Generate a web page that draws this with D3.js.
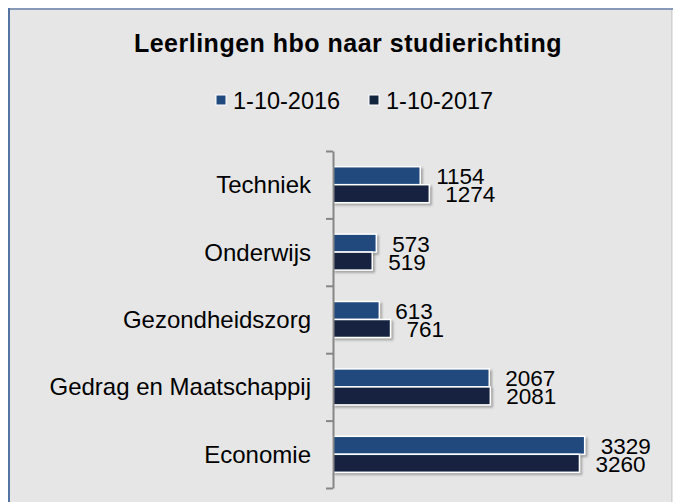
<!DOCTYPE html>
<html>
<head>
<meta charset="utf-8">
<script src="https://cdn.jsdelivr.net/npm/d3@7"></script>
<style>
  body { margin: 0; background: #fff; }
  svg { display: block; font-family: "Liberation Sans", Arial, sans-serif; }
</style>
</head>
<body>
<div id="chart"></div>
<script>
// data
var categories = ["Techniek", "Onderwijs", "Gezondheidszorg", "Gedrag en Maatschappij", "Economie"];
var seriesNames = ["1-10-2016", "1-10-2017"];
var values2016 = [1154, 573, 613, 2067, 3329];
var values2017 = [1274, 519, 761, 2081, 3260];
var seriesColors = ["#204a7e", "#13243f"];

var rows = categories.map(function (c, i) {
  return { cat: c, vals: [values2016[i], values2017[i]] };
});

var W = 673, H = 502;
var svg = d3.select("#chart").append("svg")
  .attr("width", W).attr("height", H);

// drop shadow under bars
var defs = svg.append("defs");
defs.append("filter").attr("id", "shadow")
  .attr("x", "-10%").attr("y", "-30%").attr("width", "130%").attr("height", "170%")
  .append("feDropShadow")
  .attr("dx", 2).attr("dy", 2).attr("stdDeviation", 1.2)
  .attr("flood-color", "#555").attr("flood-opacity", 0.45);

// chart frame (runs off the bottom of the picture)
svg.append("rect")
  .attr("x", 9).attr("y", 9).attr("width", 700).attr("height", 520)
  .attr("fill", "#e6e6e6").attr("stroke", "#8799b6").attr("stroke-width", 2);
svg.append("line")
  .attr("x1", 9).attr("x2", 9).attr("y1", 8).attr("y2", H)
  .attr("stroke", "#5474a3").attr("stroke-width", 2);
svg.append("line")
  .attr("x1", 671.5).attr("x2", 671.5).attr("y1", 10).attr("y2", H)
  .attr("stroke", "#d2d2d2").attr("stroke-width", 1);

// title
svg.append("text")
  .attr("x", 348).attr("y", 52)
  .attr("text-anchor", "middle")
  .style("font-size", "25px").style("font-weight", "bold")
  .style("letter-spacing", "0.5px")
  .text("Leerlingen hbo naar studierichting");

// legend
var legendX = [216, 369];
var legend = svg.selectAll(".legend").data(seriesNames).enter().append("g")
  .attr("class", "legend")
  .attr("transform", function (d, i) { return "translate(" + legendX[i] + ",95)"; });
legend.append("rect")
  .attr("width", 10).attr("height", 10)
  .attr("fill", function (d, i) { return seriesColors[i]; })
  .attr("stroke", "#fff").attr("stroke-width", 1);
legend.append("text")
  .attr("x", 17).attr("y", 13.5)
  .style("font-size", "23.5px")
  .text(function (d) { return d; });

// scales
var x = d3.scaleLinear().domain([0, 4000]).range([333, 333 + 302.4]);
var y0 = d3.scaleBand().domain(categories).range([151, 488]);
var groupH = 36;
var y1 = d3.scaleBand().domain([0, 1])
  .range([(y0.bandwidth() - groupH) / 2, (y0.bandwidth() + groupH) / 2]);

// bars
var groups = svg.selectAll(".grp").data(rows).enter().append("g")
  .attr("class", "grp")
  .attr("transform", function (d) { return "translate(0," + y0(d.cat) + ")"; });

groups.selectAll("rect").data(function (d) { return d.vals; }).enter().append("rect")
  .attr("x", x(0))
  .attr("y", function (d, i) { return y1(i); })
  .attr("width", function (d) { return x(d) - x(0); })
  .attr("height", y1.bandwidth())
  .attr("fill", function (d, i) { return seriesColors[i]; })
  .attr("stroke", "#fff").attr("stroke-width", 1.5)
  .attr("filter", "url(#shadow)");

// value labels, baseline on the bottom of each bar
groups.selectAll(".val").data(function (d) { return d.vals; }).enter().append("text")
  .attr("class", "val")
  .attr("x", function (d) { return x(d) + 16; })
  .attr("y", function (d, i) { return y1(i) + y1.bandwidth() - 0.5; })
  .style("font-size", "22.5px")
  .text(function (d) { return d; });

// category axis with ticks between categories
var yEdge = d3.scaleLinear().domain([0, categories.length]).range([151, 488]);
var axis = svg.append("g")
  .attr("transform", "translate(" + x(0) + ",0)")
  .call(d3.axisLeft(yEdge).tickValues(d3.range(categories.length + 1))
    .tickSize(7).tickSizeOuter(0).tickFormat(""));
axis.selectAll("path, line").attr("stroke", "#868686").attr("stroke-width", 2);

svg.selectAll(".cat").data(categories).enter().append("text")
  .attr("class", "cat")
  .attr("x", 311)
  .attr("y", function (d) { return y0(d) + y0.bandwidth() / 2 + 8.5; })
  .attr("text-anchor", "end")
  .style("font-size", "24px")
  .text(function (d) { return d; });
</script>
</body>
</html>
